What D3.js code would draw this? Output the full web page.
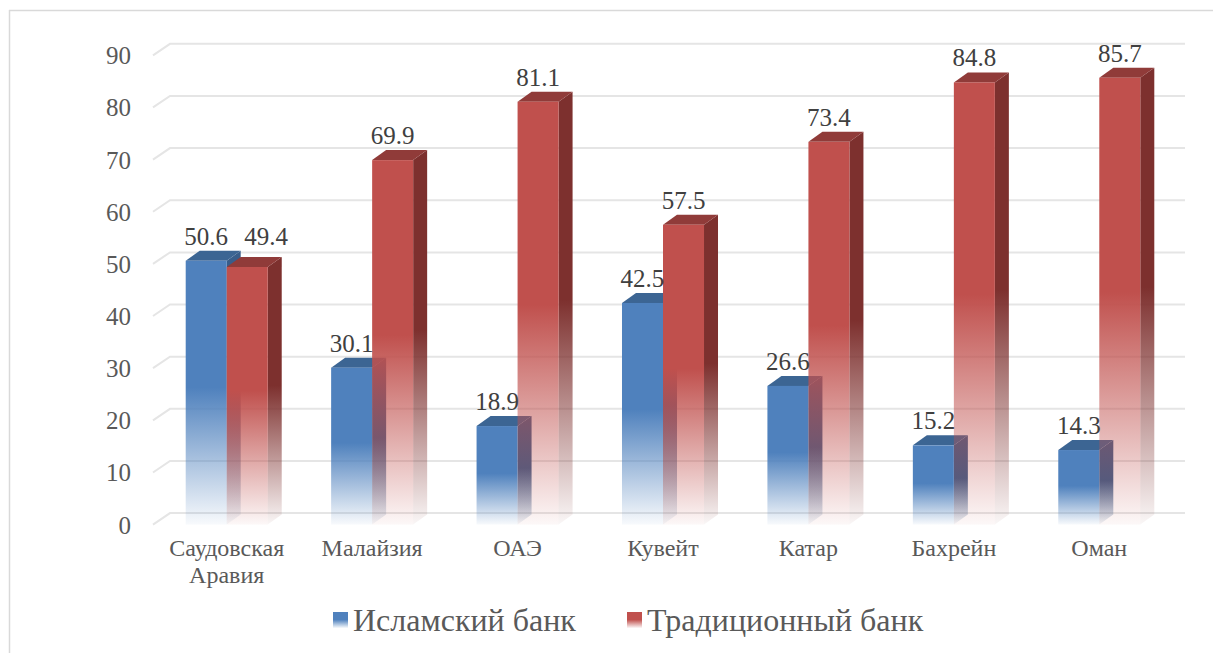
<!DOCTYPE html>
<html><head><meta charset="utf-8">
<script src="https://cdn.jsdelivr.net/npm/d3@7/dist/d3.min.js"></script>
<style>html,body{margin:0;padding:0;background:#fff;} svg{display:block;}</style>
</head><body>
<svg id="c" width="1222" height="653"></svg>
<script>
const categories = [["Саудовская","Аравия"],["Малайзия"],["ОАЭ"],["Кувейт"],["Катар"],["Бахрейн"],["Оман"]];
const seriesNames = ["Исламский банк","Традиционный банк"];
const islamic = [50.6, 30.1, 18.9, 42.5, 26.6, 15.2, 14.3];
const traditional = [49.4, 69.9, 81.1, 57.5, 73.4, 84.8, 85.7];
const yTicks = [0,10,20,30,40,50,60,70,80,90];

const svg = d3.select("#c");
const W = 1222, H = 653;
const font = "'Liberation Serif','Times New Roman',serif";
const colors = [
  {front:"#4F81BD", side:"#385D8A", top:"#3C6593"},
  {front:"#C0504D", side:"#7D302E", top:"#903B39"}
];
const seriesVals = [islamic, traditional];
const catKeys = categories.map(c => c.join(" "));

// frame
svg.append("line").attr("x1",9).attr("x2",1213).attr("y1",10.5).attr("y2",10.5).attr("stroke","#d9d9d9").attr("stroke-width",1.5);
svg.append("line").attr("x1",9.5).attr("x2",9.5).attr("y1",10).attr("y2",H).attr("stroke","#d9d9d9").attr("stroke-width",1.5);

const x0 = d3.scaleBand().domain(catKeys).range([154,1172]).paddingInner(0.436).paddingOuter(0.218);
const x1 = d3.scaleBand().domain(seriesNames).range([0, x0.bandwidth()]);
const y = d3.scaleLinear().domain([0,90]).range([524.6, 55.3]);
const bdx = 14, bdy = -10;     // bar depth
const gdx = 17, gdy = -11.5;   // back wall depth
const gridRight = 1185;

// gradients
const defs = svg.append("defs");
function grad(id, color, stops){
  const g = defs.append("linearGradient").attr("id",id).attr("x1",0).attr("y1",0).attr("x2",0).attr("y2",1);
  stops.forEach(s => g.append("stop").attr("offset",s[0]).attr("stop-color",color).attr("stop-opacity",s[1]));
}
const fadeStops = [[0,1],[0.48,1],[0.75,0.5],[1,0.04]];
colors.forEach((c,i)=>{
  grad("front"+i, c.front, fadeStops);
  grad("side"+i, c.side, fadeStops);
});

// gridlines (wall)
const grid = svg.append("g");
yTicks.forEach(v=>{
  const yf = y(v);
  grid.append("path")
    .attr("d", `M153,${yf} L${153+gdx},${yf+gdy} L${gridRight},${yf+gdy}`)
    .attr("fill","none").attr("stroke","#e5e5e5").attr("stroke-width",2);
});

// y axis labels
const yAxis = d3.axisLeft(y).tickValues(yTicks).tickSize(0).tickPadding(0).tickFormat(d3.format("d"));
const ya = svg.append("g").attr("transform","translate(131,0)").call(yAxis);
ya.select(".domain").remove();
ya.selectAll("text").attr("font-family",font).attr("font-size",25).attr("fill","#595959").attr("dy","0.34em").attr("x",0);

// bars
const bars = svg.append("g");
catKeys.forEach((k,ci)=>{
  seriesNames.forEach((s,si)=>{
    const v = seriesVals[si][ci];
    const xl = x0(k) + x1(s), w = x1.bandwidth();
    const yt = y(v), yb = y(0);
    const g = bars.append("g");
    g.append("path").attr("d",`M${xl+w},${yt} L${xl+w+bdx},${yt+bdy} L${xl+w+bdx},${yb+bdy} L${xl+w},${yb} Z`)
      .attr("fill",`url(#side${si})`);
    g.append("path").attr("d",`M${xl},${yt} L${xl+bdx},${yt+bdy} L${xl+w+bdx},${yt+bdy} L${xl+w},${yt} Z`)
      .attr("fill",colors[si].top);
    g.append("rect").attr("x",xl).attr("y",yt).attr("width",w).attr("height",yb-yt)
      .attr("fill",`url(#front${si})`);
  });
});

// value labels
const labelNudge = {"1|0":[19,-6]};
const labels = svg.append("g");
catKeys.forEach((k,ci)=>{
  seriesNames.forEach((s,si)=>{
    const v = seriesVals[si][ci];
    const n = labelNudge[si+"|"+ci] || [0,0];
    labels.append("text")
      .attr("x", x0(k)+x1(s)+x1.bandwidth()/2 + n[0])
      .attr("y", y(v) - 16 + n[1])
      .attr("text-anchor","middle").attr("font-family",font).attr("font-size",25).attr("fill","#404040")
      .text(d3.format(".1f")(v));
  });
});

// category labels
const cats = svg.append("g");
categories.forEach((lines,ci)=>{
  const t = cats.append("text").attr("text-anchor","middle").attr("font-family",font).attr("font-size",24).attr("fill","#595959");
  lines.forEach((ln,li)=>{
    t.append("tspan").attr("x", x0(catKeys[ci]) + x0.bandwidth()/2).attr("y", 556 + li*27).text(ln);
  });
});

// legend
const legendX = [333, 627];
const lg = svg.append("g");
seriesNames.forEach((s,si)=>{
  lg.append("rect").attr("x",legendX[si]).attr("y",612).attr("width",15).attr("height",16).attr("fill",`url(#front${si})`);
  lg.append("text").attr("x",legendX[si]+20).attr("y",631).attr("font-family",font).attr("font-size",32).attr("fill","#595959").text(s);
});
</script>
</body></html>
